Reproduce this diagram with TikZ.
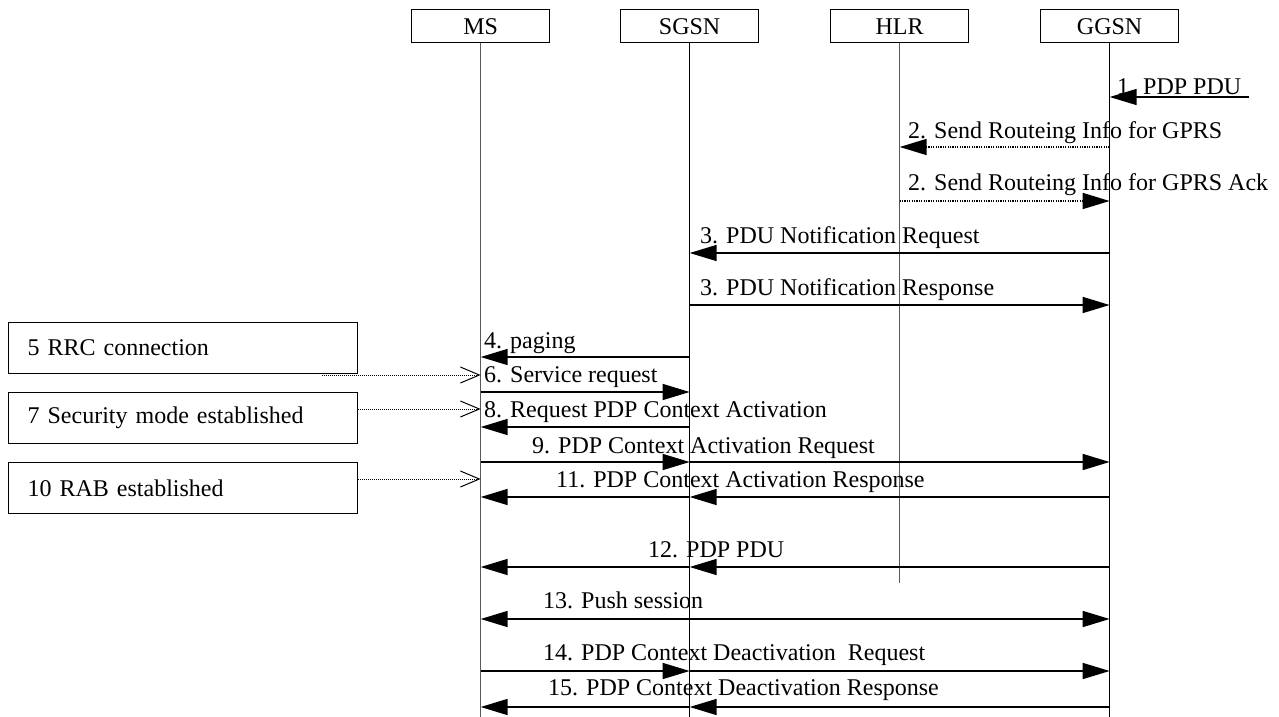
\documentclass[tikz,border=0pt]{standalone}
\usepackage{fontspec}
\setmainfont{Liberation Serif}
\usetikzlibrary{arrows.meta}
\newcommand{\sq}[1]{#1}
\begin{document}
\begin{tikzpicture}[x=1pt,y=-1pt,
  every node/.style={font=\fontsize{24}{28}\selectfont},
  entity/.style={draw, line width=1.3pt, minimum width=138pt, minimum height=33pt, inner sep=0pt, text height=17pt, text depth=0pt, anchor=north west},
  sidebox/.style={draw, line width=1.3pt, minimum height=51pt, text width=311pt, inner xsep=19pt, inner ysep=0pt, align=left, anchor=north west},
  lifeline/.style={line width=1pt},
  msg/.style={line width=1.5pt, -{Triangle[length=27pt,width=16pt]}},
  dmsg/.style={line width=1.5pt, dash pattern=on 1.2pt off 1.2pt, -{Triangle[length=27pt,width=16pt]}},
  bidir/.style={line width=1.5pt, {Triangle[length=27pt,width=16pt]}-{Triangle[length=27pt,width=16pt]}},
  sidearrow/.style={line width=1pt, dash pattern=on 1pt off 1pt, -{Straight Barb[length=19pt,width=16pt,line width=1pt]}},
  lbl/.style={anchor=base west, inner sep=0pt}
]
\useasboundingbox (0,0) rectangle (1279,717);

% entities
\node[entity] (ms)   at (411,9)  {\sq{MS}};
\node[entity] (sgsn) at (620,9)  {\sq{SGSN}};
\node[entity] (hlr)  at (830,9)  {\sq{HLR}};
\node[entity] (ggsn) at (1040,9) {\sq{GGSN}};

% lifelines
\coordinate (msend) at (ms.south |- 0,717);
\coordinate (sgend) at (sgsn.south |- 0,717);
\coordinate (hlend) at (hlr.south |- 0,583);
\coordinate (ggend) at (ggsn.south |- 0,717);
\draw[lifeline, black!65] (ms.south) -- (msend);
\draw[lifeline] (sgsn.south) -- (sgend);
\draw[lifeline, black!65] (hlr.south) -- (hlend);
\draw[lifeline] (ggsn.south) -- (ggend);

% side boxes
\node[sidebox] (b5)  at (8,322) {\sq{5 RRC connection}};
\node[sidebox] (b7)  at (8,392) {\sq{7 Security mode established}};
\node[sidebox] (b10) at (8,462) {\sq{10 RAB established}};

\coordinate (b5o) at (322,375);
\coordinate (b7o) at (b7.east |- 0,409);
\coordinate (b10o) at (b10.east |- 0,479);
\coordinate (m5) at (ms.south |- 0,375);
\coordinate (m7) at (ms.south |- 0,409);
\coordinate (m10) at (ms.south |- 0,479);
\draw[sidearrow] (b5o) -- (m5);
\draw[sidearrow] (b7o) -- (m7);
\draw[sidearrow] (b10o) -- (m10);

% 1
\coordinate (x1) at (1249,97);
\coordinate (g1) at (ggsn.south |- 0,97);
\draw[msg] (x1) -- (g1);
\node[lbl] (l1) at (1117,94) {\sq{1. PDP PDU}};

% 2
\coordinate (g2a) at (ggsn.south |- 0,147);
\coordinate (h2a) at (hlr.south |- 0,147);
\draw[dmsg] (g2a) -- (h2a);
\node[lbl] (l2a) at (908,138) {\sq{2. Send Routeing Info for GPRS}};

\coordinate (h2b) at (hlr.south |- 0,201);
\coordinate (g2b) at (ggsn.south |- 0,201);
\draw[dmsg] (h2b) -- (g2b);
\node[lbl] (l2b) at (908,190) {\sq{2. Send Routeing Info for GPRS Ack}};

% 3
\coordinate (g3a) at (ggsn.south |- 0,253);
\coordinate (s3a) at (sgsn.south |- 0,253);
\draw[msg] (g3a) -- (s3a);
\node[lbl] (l3a) at (700,243) {\sq{3. PDU Notification Request}};

\coordinate (s3b) at (sgsn.south |- 0,305);
\coordinate (g3b) at (ggsn.south |- 0,305);
\draw[msg] (s3b) -- (g3b);
\node[lbl] (l3b) at (700,295) {\sq{3. PDU Notification Response}};

% 4
\coordinate (s4) at (sgsn.south |- 0,357);
\coordinate (m4) at (ms.south |- 0,357);
\draw[msg] (s4) -- (m4);
\node[lbl] (l4) at (484,348) {\sq{4. paging}};

% 6
\coordinate (m6) at (ms.south |- 0,392);
\coordinate (s6) at (sgsn.south |- 0,392);
\draw[msg] (m6) -- (s6);
\node[lbl] (l6) at (484,382) {\sq{6. Service request}};

% 8
\coordinate (s8) at (sgsn.south |- 0,427);
\coordinate (m8) at (ms.south |- 0,427);
\draw[msg] (s8) -- (m8);
\node[lbl] (l8) at (484,417) {\sq{8. Request PDP Context Activation}};

% 9
\coordinate (m9) at (ms.south |- 0,462);
\coordinate (s9) at (sgsn.south |- 0,462);
\coordinate (g9) at (ggsn.south |- 0,462);
\draw[msg] (m9) -- (s9);
\draw[msg] (s9) -- (g9);
\node[lbl] (l9) at (532,453) {\sq{9. PDP Context Activation Request}};

% 11
\coordinate (g11) at (ggsn.south |- 0,497);
\coordinate (s11) at (sgsn.south |- 0,497);
\coordinate (m11) at (ms.south |- 0,497);
\draw[msg] (g11) -- (s11);
\draw[msg] (s11) -- (m11);
\node[lbl] (l11) at (556,487) {\sq{11. PDP Context Activation Response}};

% 12
\coordinate (g12) at (ggsn.south |- 0,567);
\coordinate (s12) at (sgsn.south |- 0,567);
\coordinate (m12) at (ms.south |- 0,567);
\draw[msg] (g12) -- (s12);
\draw[msg] (s12) -- (m12);
\node[lbl] (l12) at (648,557) {\sq{12. PDP PDU}};

% 13
\coordinate (m13) at (ms.south |- 0,619);
\coordinate (g13) at (ggsn.south |- 0,619);
\draw[bidir] (m13) -- (g13);
\node[lbl] (l13) at (543,608) {\sq{13. Push session}};

% 14
\coordinate (m14) at (ms.south |- 0,671);
\coordinate (s14) at (sgsn.south |- 0,671);
\coordinate (g14) at (ggsn.south |- 0,671);
\draw[msg] (m14) -- (s14);
\draw[msg] (s14) -- (g14);
\node[lbl] (l14) at (543,660) {\sq{14. PDP Context Deactivation\ \ Request}};

% 15
\coordinate (g15) at (ggsn.south |- 0,707);
\coordinate (s15) at (sgsn.south |- 0,707);
\coordinate (m15) at (ms.south |- 0,707);
\draw[msg] (g15) -- (s15);
\draw[msg] (s15) -- (m15);
\node[lbl] (l15) at (548,695) {\sq{15. PDP Context Deactivation Response}};
\end{tikzpicture}
\end{document}
